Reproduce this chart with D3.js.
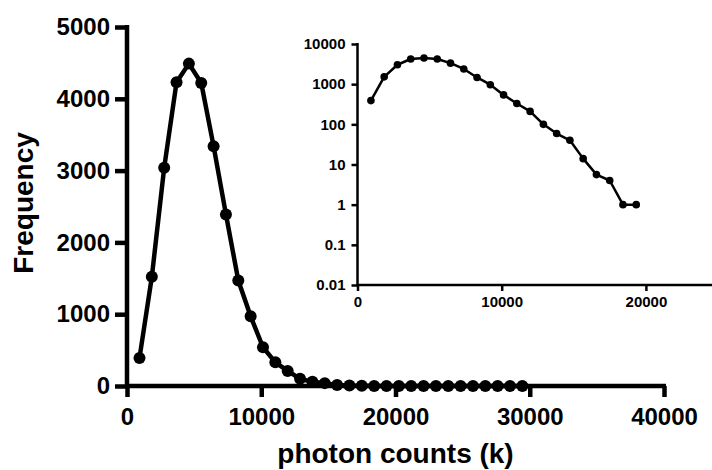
<!DOCTYPE html>
<html><head><meta charset="utf-8">
<script src="https://cdn.jsdelivr.net/npm/d3@7/dist/d3.min.js"></script>
<style>
body{margin:0;background:#fff;}
svg{display:block;}
text{font-family:"Liberation Sans",Arial,sans-serif;font-weight:bold;fill:#000;}
</style></head>
<body>
<svg id="c" width="712" height="470"></svg>
<script>
// photon counts (k) bin centres
const counts = [930,1850,2770,3690,4610,5530,6450,7370,8290,9210,10130,11050,11970,12890,13810,14730,15650,16570,17490,18410,19330,20250,21170,22090,23010,23930,24850,25770,26690,27610,28530,29450];
// frequency per bin
const freq = [390,1520,3040,4230,4490,4220,3340,2390,1470,970,540,330,210,100,59,40,14,5.6,4,1,1,0,0,0,0,0,0,0,0,0,0,0];
const mainXTicks = [0,10000,20000,30000,40000];
const mainYTicks = [0,1000,2000,3000,4000,5000];
const insetXTicks = [0,10000,20000];
const insetYTicks = [10000,1000,100,10,1,0.1,0.01];
const xLabel = "photon counts (k)";
const yLabel = "Frequency";

const data = counts.map((c,i)=>({x:c,y:freq[i]}));
const svg = d3.select("#c");

// ---------- main chart ----------
const x = d3.scaleLinear().domain([0,40000]).range([127,664]);
const y = d3.scaleLinear().domain([0,5000]).range([386,27]);

const gx = svg.append("g").attr("transform","translate(0,386)")
  .call(d3.axisBottom(x).tickValues(mainXTicks).tickSize(11).tickPadding(11).tickSizeOuter(0).tickFormat(d3.format("d")));
const gy = svg.append("g").attr("transform","translate(127,0)")
  .call(d3.axisLeft(y).tickValues(mainYTicks).tickSize(12).tickPadding(5).tickSizeOuter(0).tickFormat(d3.format("d")));
[gx,gy].forEach(g=>{
  g.select(".domain").attr("stroke","#000").attr("stroke-width",4.5);
  g.selectAll(".tick line").attr("stroke","#000").attr("stroke-width",4.5);
  g.selectAll(".tick text").style("font-size","24px").style("font-family","'Liberation Sans',Arial,sans-serif").style("font-weight","bold").attr("fill","#000");
});
gx.select(".domain").attr("d",`M${x(0)-2},0H${x(40000)+2}`);
gy.select(".domain").attr("d",`M0,${y(0)+2}V${y(5000)-2}`);

const line = d3.line().x(d=>x(d.x)).y(d=>y(d.y));
svg.append("path").datum(data).attr("d",line).attr("fill","none").attr("stroke","#000").attr("stroke-width",4.5).attr("stroke-linejoin","round");
svg.append("g").selectAll("circle").data(data).join("circle")
  .attr("cx",d=>x(d.x)).attr("cy",d=>y(d.y)).attr("r",6).attr("fill","#000");

svg.append("text").attr("x",(x(0)+x(40000))/2).attr("y",463).attr("text-anchor","middle")
  .style("font-size","28px").text(xLabel);
svg.append("text").attr("transform","translate(33,203) rotate(-90)").attr("text-anchor","middle")
  .style("font-size","28px").text(yLabel);

// ---------- inset (log scale) ----------
const ix = d3.scaleLinear().domain([0,25000]).range([357.5,718]);
const iy = d3.scaleLog().domain([0.01,10000]).range([285,44]);
const fmtLog = d=> d>=1 ? d3.format("d")(d) : String(d);

const igx = svg.append("g").attr("transform","translate(0,285)")
  .call(d3.axisBottom(ix).tickValues(insetXTicks).tickSize(6).tickPadding(5).tickSizeOuter(0).tickFormat(d3.format("d")));
const igy = svg.append("g").attr("transform","translate(357.5,0)")
  .call(d3.axisLeft(iy).tickValues(insetYTicks).tickSize(6).tickPadding(6).tickSizeOuter(0).tickFormat(fmtLog));
[igx,igy].forEach(g=>{
  g.select(".domain").attr("stroke","#000").attr("stroke-width",2.5);
  g.selectAll(".tick line").attr("stroke","#000").attr("stroke-width",2.5);
  g.selectAll(".tick text").style("font-size","15px").style("font-family","'Liberation Sans',Arial,sans-serif").style("font-weight","bold").attr("fill","#000");
});
igx.select(".domain").attr("d",`M${ix(0)-1},0H${ix(25000)}`);
igy.select(".domain").attr("d",`M0,${iy(0.01)+1}V${iy(10000)-1}`);

const idata = data.filter(d=>d.y>0);
const iline = d3.line().x(d=>ix(d.x)).y(d=>iy(d.y));
svg.append("path").datum(idata).attr("d",iline).attr("fill","none").attr("stroke","#000").attr("stroke-width",2.5).attr("stroke-linejoin","round");
svg.append("g").selectAll("circle").data(idata).join("circle")
  .attr("cx",d=>ix(d.x)).attr("cy",d=>iy(d.y)).attr("r",3.8).attr("fill","#000");
</script>
</body></html>
